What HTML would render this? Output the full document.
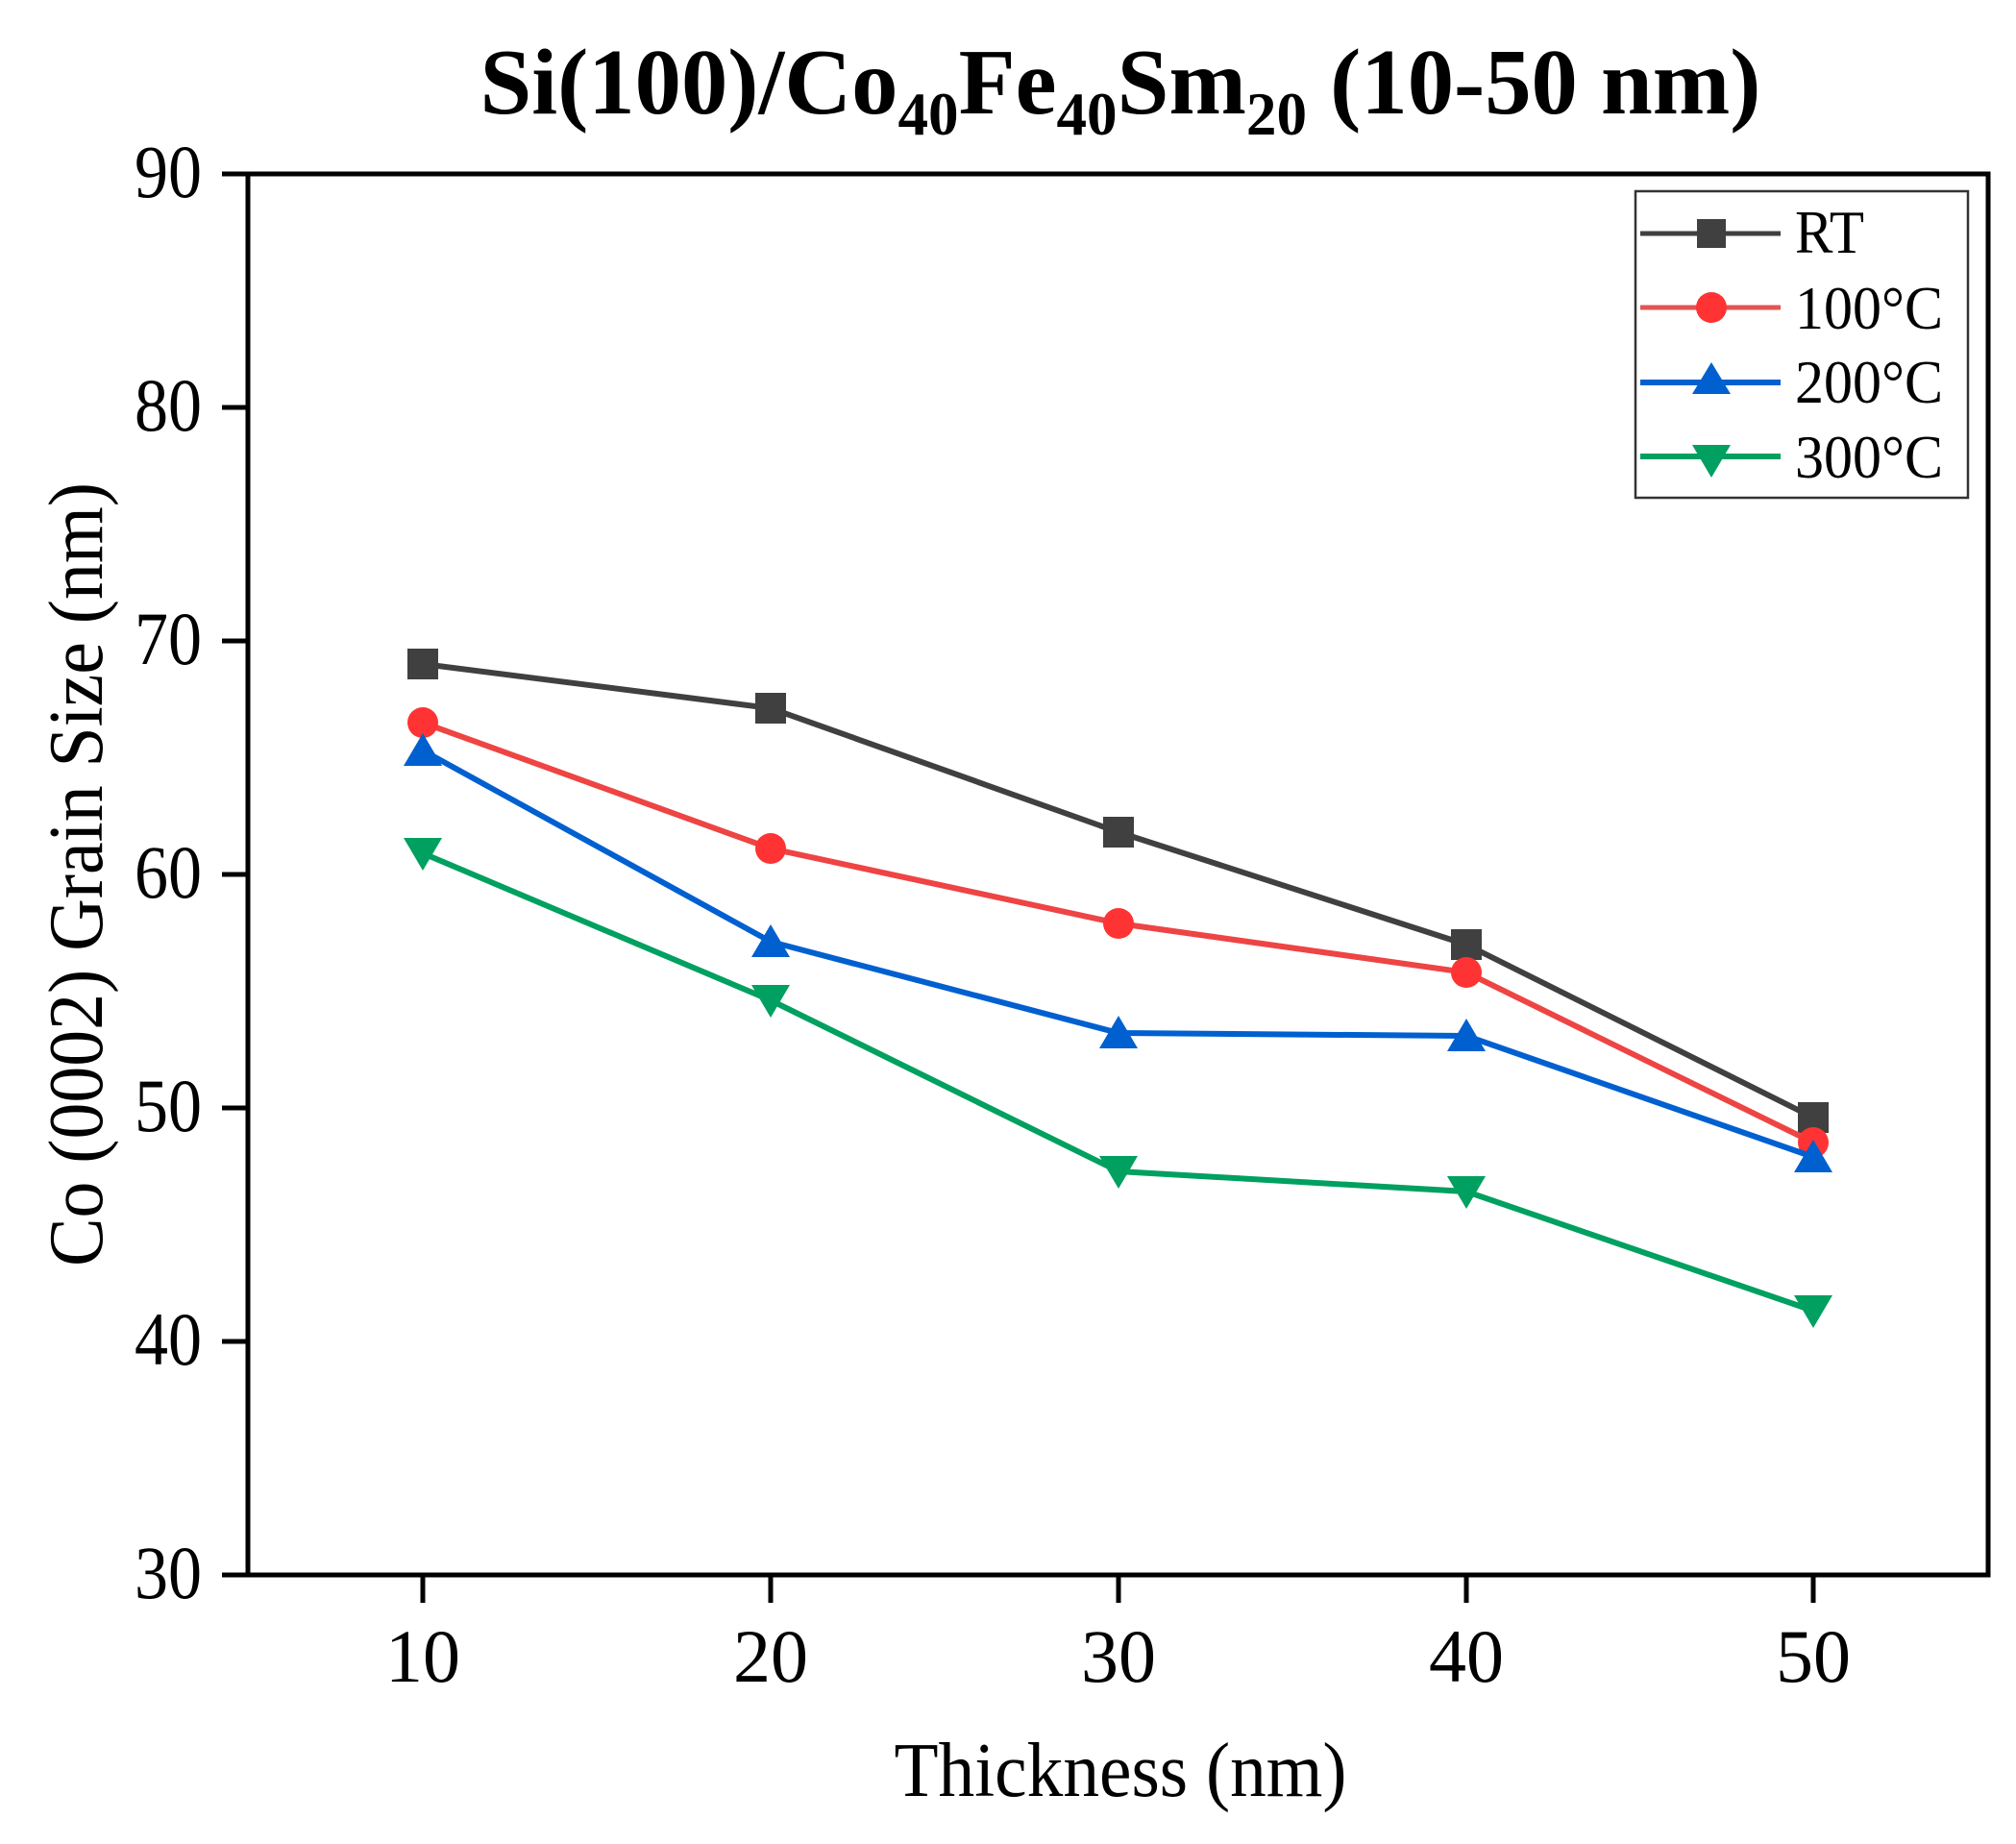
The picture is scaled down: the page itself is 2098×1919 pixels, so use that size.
<!DOCTYPE html>
<html><head><meta charset="utf-8"><style>html,body{margin:0;padding:0;background:#fff}svg{display:block}</style></head>
<body>
<svg width="2098" height="1919" viewBox="0 0 2098 1919" xmlns="http://www.w3.org/2000/svg" font-family="'Liberation Serif', serif">
<rect width="2098" height="1919" fill="#fff"/>
<text x="1166" y="118" font-size="98" font-weight="bold" text-anchor="middle" textLength="1333" lengthAdjust="spacingAndGlyphs">Si(100)/Co<tspan font-size="64" dy="22">40</tspan><tspan dy="-22">Fe</tspan><tspan font-size="64" dy="22">40</tspan><tspan dy="-22">Sm</tspan><tspan font-size="64" dy="22">20</tspan><tspan dy="-22"> (10-50 nm)</tspan></text>
<rect x="258" y="181" width="1811" height="1458" fill="none" stroke="#000" stroke-width="5"/>
<g stroke="#000" stroke-width="5">
<line x1="231" y1="181" x2="258" y2="181"/><line x1="231" y1="424" x2="258" y2="424"/><line x1="231" y1="667" x2="258" y2="667"/><line x1="231" y1="910" x2="258" y2="910"/><line x1="231" y1="1153" x2="258" y2="1153"/><line x1="231" y1="1396" x2="258" y2="1396"/><line x1="231" y1="1639" x2="258" y2="1639"/>
<line x1="440" y1="1639" x2="440" y2="1668"/><line x1="802" y1="1639" x2="802" y2="1668"/><line x1="1164" y1="1639" x2="1164" y2="1668"/><line x1="1526" y1="1639" x2="1526" y2="1668"/><line x1="1887" y1="1639" x2="1887" y2="1668"/>
</g>
<g font-size="78" text-anchor="end">
<text x="210" y="205" textLength="70" lengthAdjust="spacingAndGlyphs">90</text><text x="210" y="448" textLength="70" lengthAdjust="spacingAndGlyphs">80</text><text x="210" y="691" textLength="70" lengthAdjust="spacingAndGlyphs">70</text><text x="210" y="934" textLength="70" lengthAdjust="spacingAndGlyphs">60</text><text x="210" y="1177" textLength="70" lengthAdjust="spacingAndGlyphs">50</text><text x="210" y="1420" textLength="70" lengthAdjust="spacingAndGlyphs">40</text><text x="210" y="1663" textLength="70" lengthAdjust="spacingAndGlyphs">30</text>
</g>
<g font-size="78" text-anchor="middle">
<text x="440" y="1750">10</text><text x="802" y="1750">20</text><text x="1164" y="1750">30</text><text x="1526" y="1750">40</text><text x="1887" y="1750">50</text>
</g>
<text x="1166" y="1869" font-size="80" text-anchor="middle" textLength="471" lengthAdjust="spacingAndGlyphs">Thickness (nm)</text>
<text transform="translate(106,910) rotate(-90)" font-size="80" text-anchor="middle" textLength="816" lengthAdjust="spacingAndGlyphs">Co (0002) Grain Size (nm)</text>
<polyline fill="none" stroke="#404040" stroke-width="6" points="440,691 802,737 1164,866 1526,983 1887,1163"/>
<g fill="#404040"><rect x="424" y="675" width="32" height="32"/><rect x="786" y="721" width="32" height="32"/><rect x="1148" y="850" width="32" height="32"/><rect x="1510" y="967" width="32" height="32"/><rect x="1871" y="1147" width="32" height="32"/></g>
<polyline fill="none" stroke="#ee4444" stroke-width="6" points="440,752 802,883 1164,961 1526,1012 1887,1189"/>
<g fill="#ff3333"><circle cx="440" cy="752" r="16"/><circle cx="802" cy="883" r="16"/><circle cx="1164" cy="961" r="16"/><circle cx="1526" cy="1012" r="16"/><circle cx="1887" cy="1189" r="16"/></g>
<polyline fill="none" stroke="#0060d0" stroke-width="6" points="440,781 802,980 1164,1075 1526,1078 1887,1204"/>
<g fill="#0060d0"><polygon points="440,763 460,797 420,797"/><polygon points="802,962 822,996 782,996"/><polygon points="1164,1057 1184,1091 1144,1091"/><polygon points="1526,1060 1546,1094 1506,1094"/><polygon points="1887,1186 1907,1220 1867,1220"/></g>
<polyline fill="none" stroke="#00a060" stroke-width="6" points="440,888 802,1041 1164,1219 1526,1240 1887,1364"/>
<g fill="#00a060"><polygon points="420,872 460,872 440,906"/><polygon points="782,1025 822,1025 802,1059"/><polygon points="1144,1203 1184,1203 1164,1237"/><polygon points="1506,1224 1546,1224 1526,1258"/><polygon points="1867,1348 1907,1348 1887,1382"/></g>
<rect x="1702" y="199" width="346" height="319" fill="#fff" stroke="#333" stroke-width="2.5"/>
<line x1="1707" y1="243" x2="1853" y2="243" stroke="#404040" stroke-width="5"/><rect x="1766" y="228" width="30" height="30" fill="#404040"/>
<line x1="1707" y1="320" x2="1853" y2="320" stroke="#e05555" stroke-width="5"/><circle cx="1781" cy="320" r="16" fill="#ff3333"/>
<line x1="1707" y1="398" x2="1853" y2="398" stroke="#0060d0" stroke-width="6"/><polygon points="1781,377 1801,410 1761,410" fill="#0060d0"/>
<line x1="1707" y1="475" x2="1853" y2="475" stroke="#00a060" stroke-width="6"/><polygon points="1761,463 1801,463 1781,497" fill="#00a060"/>
<g font-size="64">
<text x="1868" y="263" textLength="72" lengthAdjust="spacingAndGlyphs">RT</text><text x="1868" y="342" textLength="154" lengthAdjust="spacingAndGlyphs">100°C</text><text x="1868" y="419" textLength="154" lengthAdjust="spacingAndGlyphs">200°C</text><text x="1868" y="497" textLength="154" lengthAdjust="spacingAndGlyphs">300°C</text>
</g>
</svg>
</body></html>
